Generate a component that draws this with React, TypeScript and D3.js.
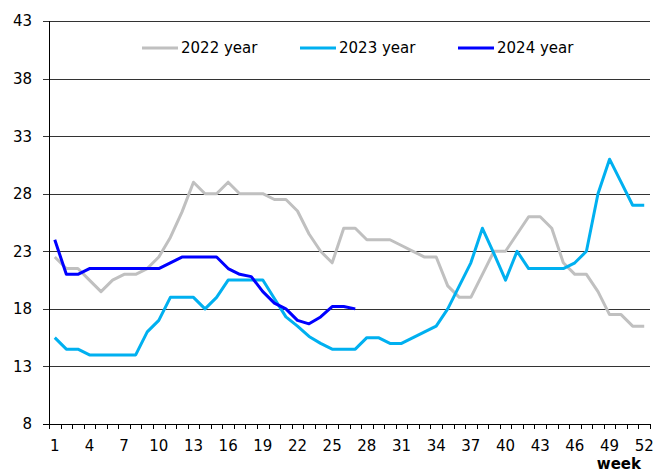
import React, { useEffect, useRef } from 'react';
import * as d3 from 'd3';

// weeks on the x axis
const weeks = d3.range(1, 53);
const weekLabels = [1, 4, 7, 10, 13, 16, 19, 22, 25, 28, 31, 34, 37, 40, 43, 46, 49, 52];
const yTicks = [8, 13, 18, 23, 28, 33, 38, 43];

const y2022 = [
  22.5, 21.5, 21.5, 20.5, 19.5, 20.5, 21, 21, 21.5, 22.5,
  24.2, 26.4, 29, 28, 28, 29, 28, 28, 28, 27.5,
  27.5, 26.5, 24.5, 23, 22, 25, 25, 24, 24, 24,
  23.5, 23, 22.5, 22.5, 20, 19, 19, 21, 23, 23,
  24.5, 26, 26, 25, 22, 21, 21, 19.5, 17.5, 17.5,
  16.5, 16.5,
];
const y2023 = [
  15.5, 14.5, 14.5, 14, 14, 14, 14, 14, 16, 17,
  19, 19, 19, 18, 19, 20.5, 20.5, 20.5, 20.5, 18.9,
  17.3, 16.5, 15.6, 15, 14.5, 14.5, 14.5, 15.5, 15.5, 15,
  15, 15.5, 16, 16.5, 18, 20, 22, 25, 22.8, 20.5,
  23, 21.5, 21.5, 21.5, 21.5, 22, 23, 28, 31, 29,
  27, 27,
];
const y2024 = [
  24, 21, 21, 21.5, 21.5, 21.5, 21.5, 21.5, 21.5, 21.5,
  22, 22.5, 22.5, 22.5, 22.5, 21.5, 21, 20.8, 19.5, 18.5,
  18, 17, 16.7, 17.3, 18.2, 18.2, 18,
];

const series = [
  { name: '2022 year', values: y2022, color: '#c0c0c0' },
  { name: '2023 year', values: y2023, color: '#00b0f0' },
  { name: '2024 year', values: y2024, color: '#0000ff' },
];

const App = () => {
  const svgRef = useRef<SVGSVGElement>(null);

  useEffect(() => {
    const font = '"DejaVu Sans", Verdana, sans-serif';

    const svg = d3.select(svgRef.current);
    svg.selectAll('*').remove();

    const x = d3.scaleBand<number>().domain(weeks).range([49, 650]).padding(0);
    const y = d3.scaleLinear().domain([8, 43]).range([424, 21]);
    const cx = (w: number) => (x(w) as number) + x.bandwidth() / 2;

    // gridlines + left ticks
    svg.append('g')
      .selectAll('line')
      .data(yTicks)
      .join('line')
      .attr('x1', 43)
      .attr('x2', 650)
      .attr('y1', d => Math.round(y(d)) + 0.5)
      .attr('y2', d => Math.round(y(d)) + 0.5)
      .attr('stroke', d => (d === 8 ? '#000' : '#333'))
      .attr('stroke-width', 1);

    // y axis line
    svg.append('line')
      .attr('x1', 49.5).attr('x2', 49.5)
      .attr('y1', Math.round(y(43))).attr('y2', Math.round(y(8)) + 1)
      .attr('stroke', '#000');

    // y labels
    svg.append('g')
      .selectAll('text')
      .data(yTicks)
      .join('text')
      .attr('x', 32)
      .attr('y', d => y(d))
      .attr('dy', '0.36em')
      .attr('text-anchor', 'end')
      .style('font-family', font)
      .style('font-size', '15px')
      .attr('fill', '#000')
      .text(d => d);

    // x ticks at category boundaries
    const bounds = weeks.map(w => x(w) as number).concat([650]);
    svg.append('g')
      .selectAll('line')
      .data(bounds)
      .join('line')
      .attr('x1', d => Math.round(d) + 0.5)
      .attr('x2', d => Math.round(d) + 0.5)
      .attr('y1', Math.round(y(8)))
      .attr('y2', Math.round(y(8)) + 5)
      .attr('stroke', '#000');

    // x labels
    svg.append('g')
      .selectAll('text')
      .data(weekLabels)
      .join('text')
      .attr('x', d => cx(d))
      .attr('y', 451)
      .attr('text-anchor', 'middle')
      .style('font-family', font)
      .style('font-size', '15px')
      .attr('fill', '#000')
      .text(d => d);

    svg.append('text')
      .attr('x', 641)
      .attr('y', 469)
      .attr('text-anchor', 'end')
      .style('font-family', font)
      .style('font-size', '15px')
      .style('font-weight', 'bold')
      .text('week');

    // lines
    const line = d3.line<number>()
      .x((_, i) => cx(weeks[i]))
      .y(d => y(d));

    series.forEach(s => {
      svg.append('path')
        .attr('d', line(s.values))
        .attr('fill', 'none')
        .attr('stroke', s.color)
        .attr('stroke-width', 3)
        .attr('stroke-linejoin', 'round');
    });

    // legend
    const legend = svg.append('g');
    series.forEach((s, i) => {
      const lx = 142 + i * 158;
      legend.append('line')
        .attr('x1', lx).attr('x2', lx + 36)
        .attr('y1', 48).attr('y2', 48)
        .attr('stroke', s.color)
        .attr('stroke-width', 3);
      legend.append('text')
        .attr('x', lx + 39)
        .attr('y', 48)
        .attr('dy', '0.36em')
        .style('font-family', font)
        .style('font-size', '15px')
        .attr('fill', '#000')
        .text(s.name);
    });
  }, []);

  return (
    <svg
      ref={svgRef}
      width={662}
      height={473}
      style={{ position: 'absolute', left: 0, top: 0, background: '#fff' }}
    />
  );
};

export default App;
